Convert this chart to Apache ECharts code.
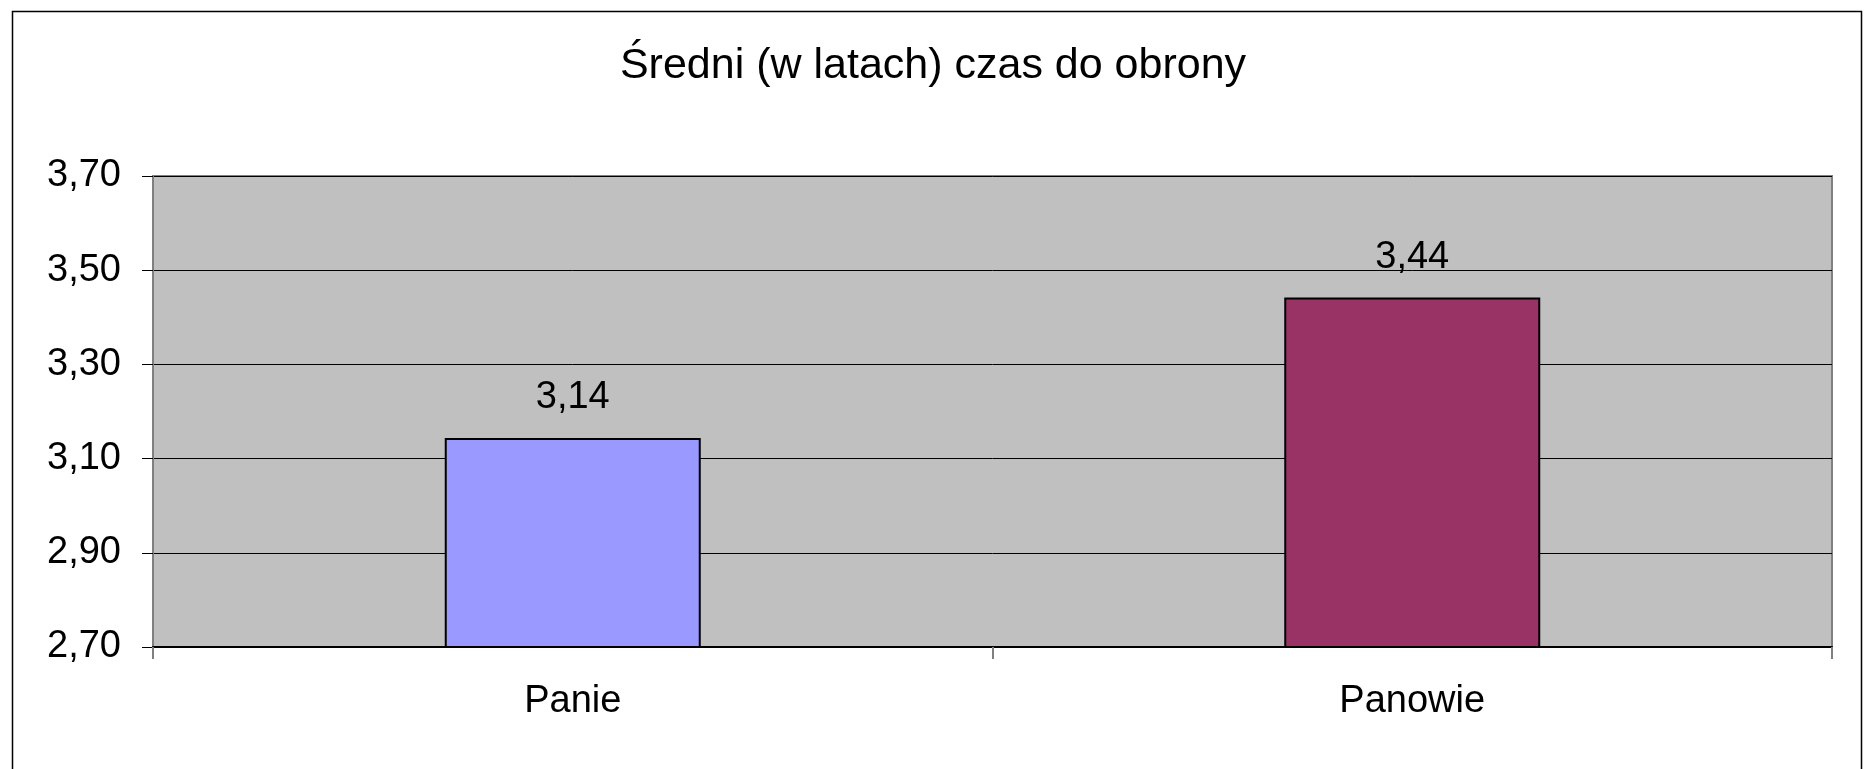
<!DOCTYPE html>
<html>
<head>
<meta charset="utf-8">
<script src="https://cdn.jsdelivr.net/npm/echarts@6/dist/echarts.min.js"></script>
<style>html,body{margin:0;padding:0;background:#fff}#c{width:1866px;height:769px}</style>
</head>
<body>
<div id="c"></div>
<script>
var titleText = 'Średni (w latach) czas do obrony';
var categories = ['Panie', 'Panowie'];
var values = [3.144, 3.442];
var barColors = ['#9999FF', '#993366'];
var yMin = 2.7, yMax = 3.7, yStep = 0.2;

var chart = echarts.init(document.getElementById('c'), null, {renderer: 'canvas'});
var fmt = function (v) { return Number(v).toFixed(2).replace('.', ','); };
var font = 'Liberation Sans, Arial, sans-serif';
chart.setOption({
  animation: false,
  backgroundColor: '#ffffff',
  title: {
    text: titleText, left: 'center', top: 40,
    textStyle: {fontFamily: font, fontSize: 43, fontWeight: 'normal', color: '#000'}
  },
  graphic: [{
    type: 'rect', left: 10, top: 9, z: -1, silent: true,
    shape: {width: 1849, height: 780},
    style: {fill: 'none', stroke: '#000', lineWidth: 1.5}
  }],
  grid: {
    left: 153, top: 176, right: 34, bottom: 122,
    show: true, backgroundColor: '#c0c0c0', borderColor: '#808080', borderWidth: 2
  },
  xAxis: {
    type: 'category', data: categories,
    axisLine: {lineStyle: {color: '#000', width: 2}},
    axisTick: {show: true, length: 12, lineStyle: {color: '#808080', width: 2}},
    axisLabel: {fontFamily: font, fontSize: 38, color: '#000', margin: 36}
  },
  yAxis: {
    type: 'value', min: yMin, max: yMax, interval: yStep,
    axisLine: {show: true, lineStyle: {color: '#808080', width: 2}},
    axisTick: {show: true, length: 11, lineStyle: {color: '#000', width: 1}},
    splitLine: {show: true, lineStyle: {color: '#000', width: 1}},
    axisLabel: {fontFamily: font, fontSize: 38, color: '#000', margin: 32, formatter: fmt}
  },
  series: [{
    type: 'bar', barWidth: 256,
    data: values.map(function (v, i) {
      return {value: v, itemStyle: {color: barColors[i], borderColor: '#000', borderWidth: 2}};
    }),
    label: {
      show: true, position: 'top', distance: 21,
      fontFamily: font, fontSize: 38, color: '#000',
      formatter: function (p) { return fmt(p.value); }
    }
  }]
});
</script>
</body>
</html>
